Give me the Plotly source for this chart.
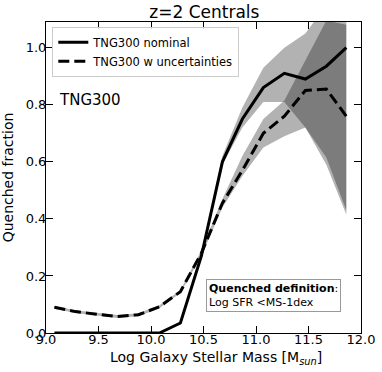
import plotly.graph_objects as go

# ---- data ----
mass = [9.08, 9.28, 9.48, 9.68, 9.88, 10.08, 10.28, 10.48, 10.68, 10.87, 11.07, 11.27, 11.47, 11.67, 11.86]
nominal = [0.0, 0.0, 0.0, 0.0, 0.0, 0.0, 0.035, 0.27, 0.60, 0.75, 0.86, 0.91, 0.89, 0.935, 1.0]
nominal_lo = [0.0, 0.0, 0.0, 0.0, 0.0, 0.0, 0.03, 0.26, 0.59, 0.72, 0.81, 0.81, 0.72, 0.615, 0.43]
nominal_hi = [0.002, 0.002, 0.002, 0.002, 0.002, 0.002, 0.04, 0.28, 0.62, 0.79, 0.93, 1.0, 1.05, 1.15, 1.2]
uncert = [0.09, 0.075, 0.066, 0.058, 0.064, 0.092, 0.145, 0.28, 0.455, 0.57, 0.70, 0.76, 0.85, 0.855, 0.76]
uncert_lo = [0.085, 0.07, 0.061, 0.053, 0.059, 0.087, 0.14, 0.27, 0.44, 0.55, 0.65, 0.69, 0.72, 0.59, 0.415]
uncert_hi = [0.095, 0.08, 0.071, 0.063, 0.069, 0.097, 0.15, 0.29, 0.47, 0.62, 0.75, 0.815, 0.955, 1.095, 1.08]

x_ticks = [9.0, 9.5, 10.0, 10.5, 11.0, 11.5, 12.0]
x_tick_labels = ["9.0", "9.5", "10.0", "10.5", "11.0", "11.5", "12.0"]
y_ticks = [0.0, 0.2, 0.4, 0.6, 0.8, 1.0]
y_tick_labels = ["0.0", "0.2", "0.4", "0.6", "0.8", "1.0"]

FONT = "DejaVu Sans"
band_color = "rgba(0,0,0,0.3)"

fig = go.Figure()

for lo, hi in [(nominal_lo, nominal_hi), (uncert_lo, uncert_hi)]:
    fig.add_trace(go.Scatter(
        x=mass + mass[::-1], y=hi + lo[::-1], fill="toself",
        fillcolor=band_color, line=dict(width=0), mode="lines",
        hoverinfo="skip", showlegend=False))

fig.add_trace(go.Scatter(x=mass, y=nominal, mode="lines", name="TNG300 nominal",
                         line=dict(color="black", width=3)))
fig.add_trace(go.Scatter(x=mass, y=uncert, mode="lines", name="TNG300 w uncertainties",
                         line=dict(color="black", width=3, dash="11px,5px")))

axis_common = dict(showline=True, linecolor="black", linewidth=1, mirror="ticks",
                   ticks="inside", ticklen=7, tickcolor="black", tickwidth=1,
                   showgrid=False, zeroline=False, automargin=False,
                   tickfont=dict(family=FONT, size=13, color="black"))

fig.update_xaxes(range=[9.0, 12.0], tickvals=x_ticks, ticktext=x_tick_labels,
                 ticklabelstandoff=-6, **axis_common)
fig.update_yaxes(range=[0.0, 1.09], tickvals=y_ticks, ticktext=y_tick_labels,
                 ticklabelstandoff=-4,
                 title=dict(text="Quenched fraction",
                            font=dict(family=FONT, size=14, color="black"), standoff=8),
                 **axis_common)

# x-axis title placed as annotation for precise position
fig.add_annotation(x=0.54, y=-0.08, xref="paper", yref="paper", xanchor="center", yanchor="middle",
                   text="Log Galaxy Stellar Mass [M<sub><i>sun</i></sub>]", showarrow=False,
                   font=dict(family=FONT, size=14, color="black"))

fig.add_annotation(x=0.035, y=0.75, xref="paper", yref="paper", xanchor="left", yanchor="middle",
                   text="TNG300", showarrow=False,
                   font=dict(family=FONT, size=15, color="black"))
fig.add_annotation(x=0.935, y=0.119, xref="paper", yref="paper", xanchor="right", yanchor="middle",
                   text="<b>Quenched definition</b>:<br>Log SFR &lt;MS-1dex", align="left",
                   showarrow=False, bordercolor="#999999", borderwidth=1, borderpad=2,
                   bgcolor="white", font=dict(family=FONT, size=11, color="black"))

fig.update_layout(
    width=382, height=372,
    margin=dict(l=46, r=21, t=22, b=39),
    paper_bgcolor="white", plot_bgcolor="white",
    title=dict(text="z=2 Centrals", x=0.535, xanchor="center", y=0.967, yanchor="middle",
               font=dict(family=FONT, size=17, color="black")),
    legend=dict(x=0.02, y=0.985, xanchor="left", yanchor="top",
                bordercolor="#cccccc", borderwidth=1, bgcolor="rgba(255,255,255,0.8)",
                font=dict(family=FONT, size=11.5, color="black"),
                tracegroupgap=0, itemwidth=30),
    showlegend=True,
)

fig.write_html("out.html", config={"displayModeBar": False},
               post_script="document.body.style.margin='0';")
